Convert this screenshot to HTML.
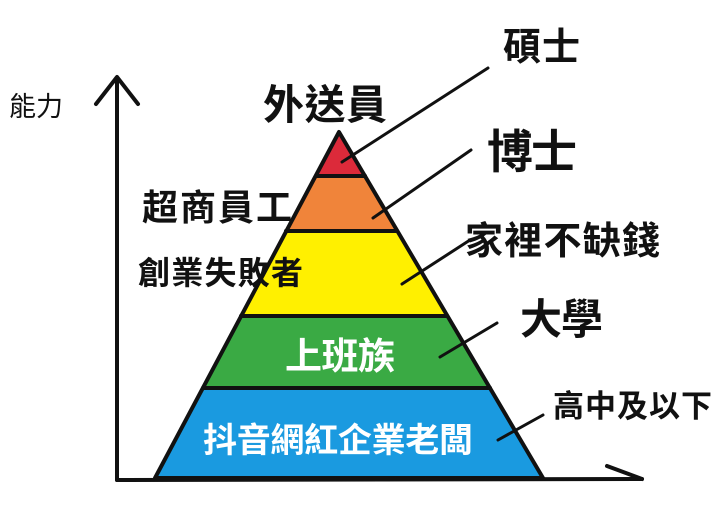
<!DOCTYPE html>
<html><head><meta charset="utf-8"><style>
html,body{margin:0;padding:0;background:#fff;}
svg{display:block;}
text{font-family:"Liberation Sans","Noto Sans CJK TC",sans-serif;font-weight:bold;fill:#111;}
</style></head><body>
<svg width="720" height="511" viewBox="0 0 720 511" xmlns="http://www.w3.org/2000/svg">
<rect width="720" height="511" fill="#fff"/>
<!-- bands -->
<polygon points="339,132 365,176 316,176" fill="#dc2a3a"/>
<polygon points="316,176 365,176 397,231 286,231" fill="#f0843a"/>
<polygon points="286,231 397,231 447,316 241,316" fill="#fff000"/>
<polygon points="241,316 447,316 490,388 203,388" fill="#3aaa44"/>
<polygon points="203,388 490,388 543,478 155,478" fill="#1a9ae0"/>
<g stroke="#111" stroke-width="4" fill="none" stroke-linecap="round">
<polygon points="339,132 543,478 155,478" stroke-linejoin="round"/>
<line x1="316" y1="176" x2="365" y2="176"/>
<line x1="286" y1="231" x2="397" y2="231"/>
<line x1="241" y1="316" x2="447" y2="316"/>
<line x1="203" y1="388" x2="490" y2="388"/>
</g>
<!-- axes -->
<g stroke="#111" stroke-width="4" fill="none" stroke-linecap="round" stroke-linejoin="round">
<line x1="117" y1="78" x2="117" y2="480"/>
<polyline points="96,104 117,77 138,104"/>
<line x1="117" y1="480" x2="642" y2="479"/>
<line x1="607" y1="466" x2="642" y2="479"/>
</g>
<!-- leader lines -->
<g stroke="#111" stroke-width="3" stroke-linecap="round">
<line x1="342" y1="162" x2="488" y2="68"/>
<line x1="373" y1="218" x2="471" y2="150"/>
<line x1="402" y1="284" x2="470" y2="240"/>
<line x1="440" y1="357" x2="497" y2="323"/>
<line x1="498" y1="440" x2="543" y2="415"/>
</g>
<!-- labels -->
<text x="9" y="116" font-size="27" style="font-weight:normal" fill="#333">能力</text>
<text x="263" y="119" font-size="41" textLength="124">外送員</text>
<text x="503" y="60" font-size="38" textLength="77">碩士</text>
<text x="487" y="168" font-size="46" textLength="90">博士</text>
<text x="142" y="220" font-size="36" textLength="150">超商員工</text>
<text x="138" y="284" font-size="32" textLength="165">創業失敗者</text>
<text x="465" y="254" font-size="38" textLength="195">家裡不缺錢</text>
<text x="520" y="334" font-size="42" textLength="83">大學</text>
<text x="285" y="369" font-size="37" textLength="110" style="fill:#fff">上班族</text>
<text x="553" y="417" font-size="31" textLength="159">高中及以下</text>
<text x="203" y="452" font-size="34" textLength="270" style="fill:#fff">抖音網紅企業老闆</text>
</svg>
</body></html>
